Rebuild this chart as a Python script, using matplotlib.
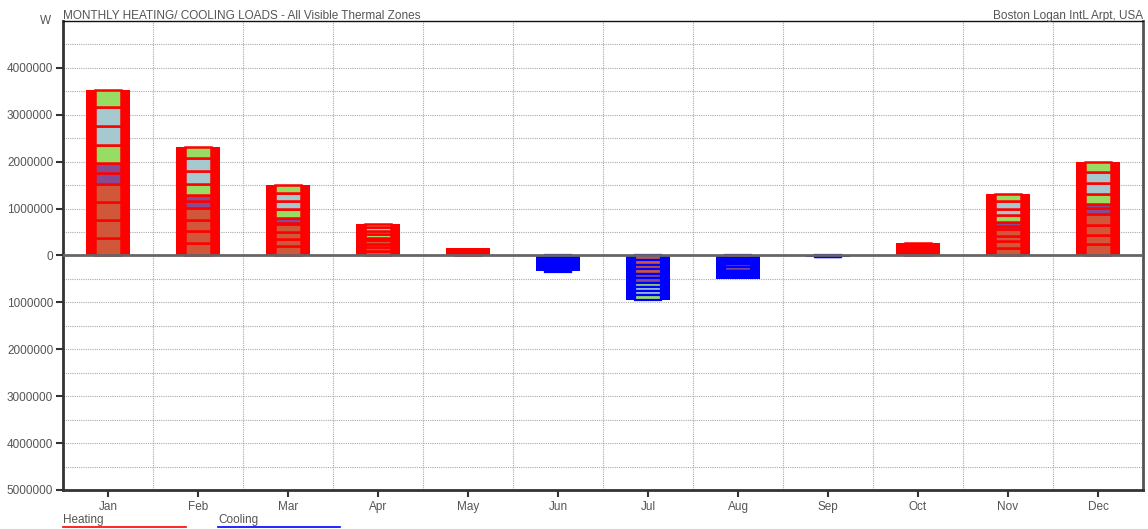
import matplotlib.pyplot as plt
from matplotlib.lines import Line2D
import numpy as np

months = ['Jan', 'Feb', 'Mar', 'Apr', 'May', 'Jun',
          'Jul', 'Aug', 'Sep', 'Oct', 'Nov', 'Dec']

# total loads, W
heating_total = [3530000, 2320000, 1510000, 680000, 150000, 10000,
                 0, 0, 0, 270000, 1310000, 2000000]
cooling_total = [0, 0, 0, 0, 0, -330000,
                 -940000, -510000, -25000, 0, 0, 0]

# per-zone loads in MW (stacked bottom -> top), one row per month
zone_heating = [
    [0.383, 0.383, 0.372, 0.383, 0.234, 0.223, 0.372, 0.404, 0.404, 0.372],
    [0.270, 0.255, 0.236, 0.260, 0.149, 0.117, 0.245, 0.270, 0.270, 0.249],
    [0.206, 0.151, 0.136, 0.177, 0.030, 0.090, 0.194, 0.179, 0.172, 0.174],
    [0.106, 0.074, 0.074, 0.074, 0.021, 0.021, 0.085, 0.074, 0.074, 0.074],
    [0.020, 0.015, 0.015, 0.015, 0.010, 0.010, 0.015, 0.015, 0.015, 0.015],
    [0, 0, 0, 0, 0, 0, 0, 0, 0, 0],
    [0, 0, 0, 0, 0, 0, 0, 0, 0, 0],
    [0, 0, 0, 0, 0, 0, 0, 0, 0, 0],
    [0, 0, 0, 0, 0, 0, 0, 0, 0, 0],
    [0.030, 0.025, 0.025, 0.030, 0.015, 0.015, 0.030, 0.035, 0.035, 0.030],
    [0.166, 0.138, 0.117, 0.149, 0.068, 0.074, 0.145, 0.143, 0.164, 0.149],
    [0.245, 0.202, 0.194, 0.238, 0.128, 0.089, 0.213, 0.234, 0.240, 0.211],
]
zone_cooling = [
    [0, 0, 0, 0, 0, 0, 0, 0, 0, 0],
    [0, 0, 0, 0, 0, 0, 0, 0, 0, 0],
    [0, 0, 0, 0, 0, 0, 0, 0, 0, 0],
    [0, 0, 0, 0, 0, 0, 0, 0, 0, 0],
    [0, 0, 0, 0, 0, 0, 0, 0, 0, 0],
    [0.040, 0.035, 0.035, 0.040, 0.030, 0.030, 0.035, 0.040, 0.040, 0.035],
    [0.100, 0.095, 0.100, 0.095, 0.090, 0.100, 0.090, 0.090, 0.090, 0.090],
    [0.050, 0.040, 0.050, 0.040, 0.070, 0.080, 0.010, 0.010, 0.010, 0.010],
    [0.003, 0.003, 0.003, 0.003, 0.003, 0.003, 0.003, 0.003, 0.003, 0.003],
    [0, 0, 0, 0, 0, 0, 0, 0, 0, 0],
    [0, 0, 0, 0, 0, 0, 0, 0, 0, 0],
    [0, 0, 0, 0, 0, 0, 0, 0, 0, 0],
]

zone_colors = ['#d0573a', '#d0573a', '#d0573a', '#d0573a',
               '#874b92', '#874b92',
               '#98dc64', '#a6c8cf', '#a6c8cf', '#98dc64']

txt = '#555555'
fs = 8.5
plt.rcParams['font.family'] = ['Liberation Sans', 'DejaVu Sans']

fig = plt.figure(figsize=(11.48, 5.29), dpi=100)
ax = fig.add_axes([63 / 1148, 1 - 490 / 529, 1080 / 1148, 469 / 529])

x = np.arange(len(months))

# totals
ax.bar(x, heating_total, width=0.49, color='#ff0000', zorder=2)
ax.bar(x, cooling_total, width=0.49, color='#0000ff', zorder=2)

# zone breakdown
zh = np.array(zone_heating) * 1e6
zc = -np.array(zone_cooling) * 1e6
for i in range(len(months)):
    base = 0.0
    for z in range(zh.shape[1]):
        if zh[i, z] > 0:
            ax.bar(x[i], zh[i, z], bottom=base, width=0.29,
                   color=zone_colors[z], edgecolor='#ff0000',
                   linewidth=1.8, zorder=3)
            base += zh[i, z]
    base = 0.0
    for z in range(zc.shape[1]):
        if zc[i, z] < 0:
            ax.bar(x[i], zc[i, z], bottom=base, width=0.29,
                   color=zone_colors[z], edgecolor='#0000ff',
                   linewidth=1.6, zorder=3)
            base += zc[i, z]

ax.axhline(0, color='#666666', lw=2, zorder=4)

ax.set_xlim(-0.5, 11.5)
ax.set_ylim(-5000000, 5000000)

# grid: every 500000 horizontally, month boundaries vertically
for yv in np.arange(-4500000, 5000000, 500000):
    ax.axhline(yv, color='#aaaaaa', lw=0.8, ls=(0, (1, 1)), zorder=1)
for xv in np.arange(0.5, 11.5, 1):
    ax.axvline(xv, color='#aaaaaa', lw=0.8, ls=(0, (1, 1)), zorder=1)

yt = np.arange(-5000000, 5000000, 1000000)
ax.set_yticks(yt)
ax.set_yticklabels([str(abs(int(v))) for v in yt])
ax.set_xticks(x)
ax.set_xticklabels(months)
ax.tick_params(axis='y', length=5, width=1.5, color='#333333',
               labelcolor=txt, labelsize=fs, pad=2)
ax.tick_params(axis='x', length=5, width=1.5, color='#333333',
               labelcolor=txt, labelsize=fs, pad=3)

for side in ['left', 'bottom']:
    ax.spines[side].set_linewidth(2)
    ax.spines[side].set_color('#333333')
ax.spines['top'].set_linewidth(1)
ax.spines['top'].set_color('#111111')
ax.spines['right'].set_linewidth(2)
ax.spines['right'].set_color('#555555')

fig.text(63 / 1148, 1 - 16 / 529, 'MONTHLY HEATING/ COOLING LOADS - All Visible Thermal Zones',
         color=txt, fontsize=fs, ha='left', va='center')
fig.text(1143 / 1148, 1 - 16 / 529, 'Boston Logan IntL Arpt, USA',
         color=txt, fontsize=fs, ha='right', va='center')
fig.text(51 / 1148, 1 - 21 / 529, 'W', color=txt, fontsize=fs,
         ha='right', va='center')

# legend
fig.text(63 / 1148, 1 - 520 / 529, 'Heating', color=txt, fontsize=fs,
         ha='left', va='center')
fig.text(218 / 1148, 1 - 520 / 529, 'Cooling', color=txt, fontsize=fs,
         ha='left', va='center')
fig.add_artist(Line2D([63 / 1148, 186 / 1148], [1 - 527 / 529] * 2,
                      color='#ff0000', lw=1.2))
fig.add_artist(Line2D([218 / 1148, 340 / 1148], [1 - 527 / 529] * 2,
                      color='#0000ff', lw=1.2))

fig.savefig('out.png', dpi=100)
